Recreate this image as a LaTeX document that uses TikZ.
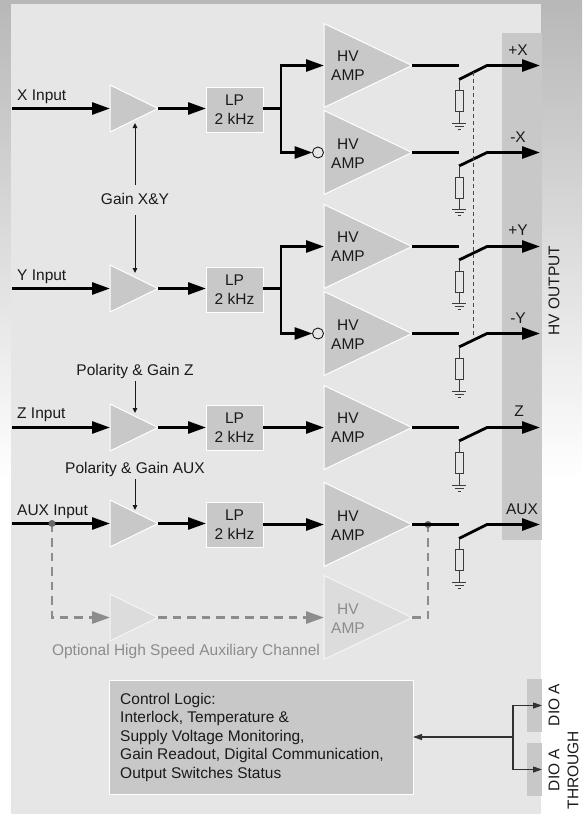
\documentclass[tikz,border=0pt]{standalone}
\usepackage{fontspec}
\setmainfont{Liberation Sans}
\usepackage{xcolor}
\usepackage{tikz}
\usetikzlibrary{shapes.geometric, arrows.meta}

\definecolor{panelgray}{HTML}{E6E6E6}
\definecolor{boxgray}{HTML}{C8C8C8}
\definecolor{optfill}{HTML}{DCDCDC}
\definecolor{optgray}{HTML}{8C8C8C}
\definecolor{inkgray}{HTML}{1A1A1A}

\begin{document}
\begin{tikzpicture}[
    x=1pt, y=-1pt,
    txt/.style={font=\fontsize{15.5}{19}\selectfont, text=inkgray, align=center, inner sep=0pt},
    inlabel/.style={txt, anchor=west},
    smalltri/.style={
        isosceles triangle, isosceles triangle stretches,
        shape border rotate=0, anchor=west,
        minimum width=47pt, minimum height=48pt,
        inner sep=0pt, outer sep=0pt,
        draw=white, line width=1pt, fill=boxgray
    },
    hvtri/.style={smalltri, minimum width=84pt, minimum height=88pt},
    opttri/.style={draw=panelgray!40!white, fill=optfill},
    lpbox/.style={
        rectangle, draw=white, line width=1pt, fill=boxgray, txt,
        minimum width=57pt, minimum height=45pt, outer sep=0pt
    },
    band/.style={rectangle, fill=boxgray, inner sep=0pt, outer sep=0pt},
    invert/.style={circle, draw=inkgray, line width=0.9pt, minimum size=11pt, inner sep=0pt, outer sep=0pt},
    res/.style={rectangle, draw=inkgray!85, line width=0.9pt, minimum width=8pt, minimum height=21pt, inner sep=0pt, outer sep=0pt},
    mainline/.style={line width=2.8pt, draw=black},
    mainarrow/.style={mainline, -{Triangle[length=18pt,width=12pt]}},
    wire/.style={line width=0.9pt, draw=inkgray!85},
    linkline/.style={line width=1pt, draw=inkgray!80, dash pattern=on 4pt off 3pt},
    gainarrow/.style={line width=1pt, draw=inkgray, -{Triangle[length=5pt,width=4.5pt]}},
    optline/.style={line width=2.8pt, draw=optgray, dash pattern=on 8.5pt off 6pt},
    optarrow/.style={optline, -{Triangle[length=18pt,width=12pt]}},
    ctrlarrow/.style={line width=1.2pt, draw=inkgray!90, -{Triangle[length=9pt,width=6pt]}},
    gnd/.pic={
        \coordinate (-top) at (0,0);
        \draw[wire] (-7,0) -- (7,0);
        \draw[wire] (-4.5,3.5) -- (4.5,3.5);
        \draw[wire] (-1.5,6.5) -- (1.5,6.5);
    },
]

\useasboundingbox (0,0) rectangle (582,814);

% Background
\shade[top color=black!28, bottom color=white] (0,0) rectangle (582,480);
\fill[white] (0,480) rectangle (582,814);
\fill[panelgray] (11,4) rectangle (541,814);
\fill[boxgray] (502,33) rectangle (542,540);

% X channel
\coordinate (xin) at (12,108.5);
\node[inlabel] (xinlabel) at (17,97) {X Input};
\node[smalltri] (xtri) at (110,108.5) {};
\node[lpbox] (xlp) at (234.5,110) {LP\\2 kHz};
\coordinate (xfork) at (281,108.5);
\node[hvtri] (ampxp) at (324,65.5) {};
\node[txt] (ampxplabel) at (348,66) {HV\\AMP};
\node[hvtri] (ampxm) at (324,152.5) {};
\node[txt] (ampxmlabel) at (348,153.5) {HV\\AMP};
\node[invert] (invx) at (318,152.5) {};
\draw[mainarrow] (xin) -- (xtri.west);
\draw[mainarrow] (xtri.east) -- (xlp.west |- xtri.east);
\draw[mainline] (xlp.east |- xfork) -- (xfork);
\draw[mainarrow] (xfork) |- (ampxp.west);
\draw[mainarrow] (xfork) |- (invx.west);

% Y channel
\coordinate (yin) at (12,288.5);
\node[inlabel] (yinlabel) at (17,277) {Y Input};
\node[smalltri] (ytri) at (110,288.5) {};
\node[lpbox] (ylp) at (234.5,290) {LP\\2 kHz};
\coordinate (yfork) at (281,288.5);
\node[hvtri] (ampyp) at (324,246.5) {};
\node[txt] (ampyplabel) at (348,247) {HV\\AMP};
\node[hvtri] (ampym) at (324,333.5) {};
\node[txt] (ampymlabel) at (348,334.5) {HV\\AMP};
\node[invert] (invy) at (318,333.5) {};
\draw[mainarrow] (yin) -- (ytri.west);
\draw[mainarrow] (ytri.east) -- (ylp.west |- ytri.east);
\draw[mainline] (ylp.east |- yfork) -- (yfork);
\draw[mainarrow] (yfork) |- (ampyp.west);
\draw[mainarrow] (yfork) |- (invy.west);

% Gain X&Y
\node[txt] (gainxy) at (135,199) {Gain X\&Y};
\coordinate (gainx) at (135,123);
\coordinate (gainy) at (135,273);
\draw[gainarrow] ([yshift=8pt]gainxy.north) -- (gainx);
\draw[gainarrow] ([yshift=-10pt]gainxy.south) -- (gainy);

% Z channel
\coordinate (zin) at (12,427.5);
\node[inlabel] (zinlabel) at (17,415) {Z Input};
\node[smalltri] (ztri) at (110,427.5) {};
\node[lpbox] (zlp) at (234.5,428) {LP\\2 kHz};
\node[hvtri] (ampz) at (324,427.5) {};
\node[txt] (ampzlabel) at (348,428) {HV\\AMP};
\node[txt] (polz) at (135,371) {Polarity \& Gain Z};
\coordinate (gainz) at (135,413);
\draw[mainarrow] (zin) -- (ztri.west);
\draw[mainarrow] (ztri.east) -- (zlp.west |- ztri.east);
\draw[mainarrow] (zlp.east |- ampz.west) -- (ampz.west);
\draw[gainarrow] ([yshift=-3pt]polz.south) -- (gainz);

% AUX channel
\coordinate (auxin) at (12,523.5);
\node[inlabel] (auxinlabel) at (17,512) {AUX Input};
\node[smalltri] (auxtri) at (110,523.5) {};
\node[lpbox] (auxlp) at (234.5,524.5) {LP\\2 kHz};
\node[hvtri] (ampaux) at (324,524.5) {};
\node[txt] (ampauxlabel) at (348,525.5) {HV\\AMP};
\node[txt] (polaux) at (135,469) {Polarity \& Gain AUX};
\coordinate (gainaux) at (135,510);
\draw[mainarrow] (auxin) -- (auxtri.west);
\draw[mainarrow] (auxtri.east) -- (auxlp.west |- auxtri.east);
\draw[mainarrow] (auxlp.east |- ampaux.west) -- (ampaux.west);
\draw[gainarrow] ([yshift=-3pt]polaux.south) -- (gainaux);

% Optional channel
\coordinate (optstart) at (52,523.5);
\coordinate (optcorner) at (52,617.5);
\coordinate (optjoin) at (428,524.5);
\coordinate (optturn) at (428,617.5);
\node[smalltri, opttri] (opttri) at (110,617.5) {};
\node[hvtri, opttri] (ampopt) at (324,617.5) {};
\node[txt, text=optgray] (ampoptlabel) at (348,618.5) {HV\\AMP};
\node[txt, text=optgray] (optlabel) at (186,651) {Optional High Speed Auxiliary Channel};
\draw[optarrow] (optstart) -- (optcorner) -- (opttri.west);
\draw[optarrow] (opttri.east) -- (ampopt.west);
\draw[optline] (ampopt.east) -- (optturn) -- (optjoin);
\fill[black!60] (optstart) circle (3.5pt);
\fill[black!60] (optjoin) circle (3.5pt);

% Output +X
\coordinate (offxp) at (459,65.5);
\coordinate (swxp) at (459,79.5);
\coordinate (conxp) at (487,65.5);
\coordinate (outxp) at (540,65.5);
\node[res] (resxp) at (459,101) {};
\pic (gndxp) at (459,123) {gnd};
\node[txt] (labxp) at (518,50) {+X};
\draw[mainline] (ampxp.east) -- (offxp);
\draw[mainarrow] (swxp) -- (conxp) -- (outxp);
\draw[wire] (swxp) -- (resxp) -- (gndxp-top);

% Output -X
\coordinate (offxm) at (459,152.5);
\coordinate (swxm) at (459,166);
\coordinate (conxm) at (487,152.5);
\coordinate (outxm) at (540,152.5);
\node[res] (resxm) at (459,188) {};
\pic (gndxm) at (459,209) {gnd};
\node[txt] (labxm) at (518,137) {-X};
\draw[mainline] (ampxm.east) -- (offxm);
\draw[mainarrow] (swxm) -- (conxm) -- (outxm);
\draw[wire] (swxm) -- (resxm) -- (gndxm-top);

% Output +Y
\coordinate (offyp) at (459,246.5);
\coordinate (swyp) at (459,260);
\coordinate (conyp) at (487,246.5);
\coordinate (outyp) at (540,246.5);
\node[res] (resyp) at (459,281.5) {};
\pic (gndyp) at (459,303) {gnd};
\node[txt] (labyp) at (518,230) {+Y};
\draw[mainline] (ampyp.east) -- (offyp);
\draw[mainarrow] (swyp) -- (conyp) -- (outyp);
\draw[wire] (swyp) -- (resyp) -- (gndyp-top);

% Output -Y
\coordinate (offym) at (459,333.5);
\coordinate (swym) at (459,347);
\coordinate (conym) at (487,333.5);
\coordinate (outym) at (540,333.5);
\node[res] (resym) at (459,369) {};
\pic (gndym) at (459,391) {gnd};
\node[txt] (labym) at (518,318) {-Y};
\draw[mainline] (ampym.east) -- (offym);
\draw[mainarrow] (swym) -- (conym) -- (outym);
\draw[wire] (swym) -- (resym) -- (gndym-top);

% Output Z
\coordinate (offz) at (459,427.5);
\coordinate (swz) at (459,441);
\coordinate (conz) at (487,427.5);
\coordinate (outz) at (540,427.5);
\node[res] (resz) at (459,463) {};
\pic (gndz) at (459,485) {gnd};
\node[txt] (labz) at (519,411) {Z};
\draw[mainline] (ampz.east) -- (offz);
\draw[mainarrow] (swz) -- (conz) -- (outz);
\draw[wire] (swz) -- (resz) -- (gndz-top);

% Output AUX
\coordinate (offaux) at (459,524.5);
\coordinate (swaux) at (459,538.5);
\coordinate (conaux) at (487,524.5);
\coordinate (outaux) at (540,524.5);
\node[res] (resaux) at (459,560) {};
\pic (gndaux) at (459,582) {gnd};
\node[txt] (labaux) at (522,509) {AUX};
\draw[mainline] (ampaux.east) -- (offaux);
\draw[mainarrow] (swaux) -- (conaux) -- (outaux);
\draw[wire] (swaux) -- (resaux) -- (gndaux-top);

% Switch link and band label
\coordinate (linktop) at (473,72);
\coordinate (linkbot) at (473,338);
\draw[linkline] (linktop) -- (linkbot);
\node[txt, rotate=90] (hvout) at (554,290.5) {HV OUTPUT};

% Control logic
\node[rectangle, draw=white, line width=1pt, fill=boxgray, minimum width=304pt, minimum height=114pt, inner sep=0pt, outer sep=0pt] (ctrl) at (261,737) {};
\node[txt, align=left, anchor=north west, font=\fontsize{15.5}{18.4}\selectfont] (ctrltext) at (120,693) {Control Logic:\\Interlock, Temperature \&\\Supply Voltage Monitoring,\\Gain Readout, Digital Communication,\\Output Switches Status};
\node[band, minimum width=15pt, minimum height=53pt] (dioa) at (534.5,705.5) {};
\node[band, minimum width=15pt, minimum height=53pt] (diob) at (534.5,769.5) {};
\node[txt, rotate=90] (dioalabel) at (554,705) {DIO A};
\node[txt, rotate=90] (dioblabel) at (563.5,770) {DIO A\\THROUGH};
\coordinate (diofork) at (513,737);
\draw[ctrlarrow] (diofork) -- (ctrl.east);
\draw[ctrlarrow] (diofork) |- (dioa.east);
\draw[ctrlarrow] (diofork) |- (diob.east);

\end{tikzpicture}
\end{document}
